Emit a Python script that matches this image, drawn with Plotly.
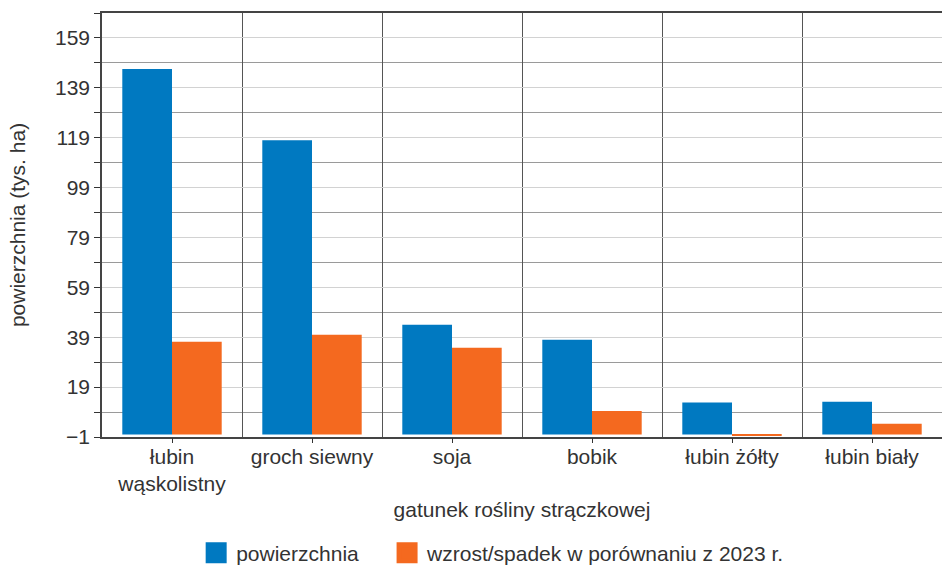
import plotly.graph_objects as go

categories = ["łubin<br>wąskolistny", "groch siewny", "soja", "bobik", "łubin żółty", "łubin biały"]
powierzchnia = [146.5, 118.0, 44.0, 38.0, 12.8, 13.1]
zmiana = [37.2, 40.0, 34.8, 9.4, -0.6, 4.3]
series_names = ["powierzchnia", "wzrost/spadek w porównaniu z 2023 r."]
colors = ["#0079C1", "#F4691F"]
y_ticks = [-1, 19, 39, 59, 79, 99, 119, 139, 159]

font_family = "Liberation Sans, Arial, sans-serif"
text_color = "#333333"
fs = 21

fig = go.Figure()
for name, vals, col in zip(series_names, [powierzchnia, zmiana], colors):
    fig.add_trace(go.Bar(
        x=categories, y=vals, name=name, marker_color=col,
        marker_line_width=0, showlegend=False,
    ))
# legend entries with larger square symbols
legend_labels = [series_names[0] + "\u00a0\u00a0\u00a0\u00a0", series_names[1]]
for name, col in zip(legend_labels, colors):
    fig.add_trace(go.Scatter(
        x=[None], y=[None], mode="markers", name=name,
        marker=dict(symbol="square", size=18, color=col, line=dict(width=5, color=col)),
        showlegend=True,
    ))
# invisible trace on overlay axis so that it draws ticks at category centres
fig.add_trace(go.Scatter(x=categories, y=powierzchnia, xaxis="x2",
                         mode="markers", marker=dict(opacity=0),
                         showlegend=False, hoverinfo="skip"))

fig.update_layout(
    width=942, height=565,
    margin=dict(l=102, r=0, t=13, b=128),
    paper_bgcolor="white", plot_bgcolor="white",
    barmode="group", bargap=0.29, bargroupgap=0,
    font=dict(family=font_family, color=text_color, size=fs),
    legend=dict(
        orientation="h", xref="container", yref="container",
        x=0.523, y=0.021, xanchor="center", yanchor="middle",
        font=dict(size=fs, color=text_color), itemsizing="trace",
        tracegroupgap=0,
    ),
    xaxis2=dict(
        overlaying="x", matches="x", side="bottom", anchor="y", type="category",
        showticklabels=False, ticks="outside", ticklen=5, tickcolor="#333333", tickwidth=1.2,
        showgrid=False, showline=False, zeroline=False,
    ),
)

fig.layout.xaxis.update(
    type="category",
    tickson="boundaries",
    showgrid=True, gridcolor="#555555", gridwidth=1.3,
    ticks="", showline=True, linecolor="#444444", linewidth=1.5, mirror=True,
    tickfont=dict(size=fs, color=text_color),
    title=dict(text="gatunek rośliny strączkowej", font=dict(size=fs, color=text_color), standoff=8),
)

fig.update_yaxes(
    range=[-1, 169],
    tickmode="array", tickvals=y_ticks, ticktext=["\u22121" if v < 0 else str(v) for v in y_ticks],
    ticks="outside", ticklen=6, tickcolor="#333333", tickwidth=1.2,
    showgrid=True, gridcolor="#d2d2d2", gridwidth=1.2,
    minor=dict(dtick=10, tick0=-1, ticks="outside", ticklen=6, tickcolor="#333333",
               showgrid=True, gridcolor="#9a9a9a", gridwidth=1.2),
    showline=True, linecolor="#444444", linewidth=1.5,
    zeroline=False,
    tickfont=dict(size=fs, color=text_color),
    title=dict(text="powierzchnia (tys. ha)", font=dict(size=fs, color=text_color), standoff=24),
)

fig.write_html("out.html", config={"displayModeBar": False},
               post_script="document.body.style.margin='0';")
